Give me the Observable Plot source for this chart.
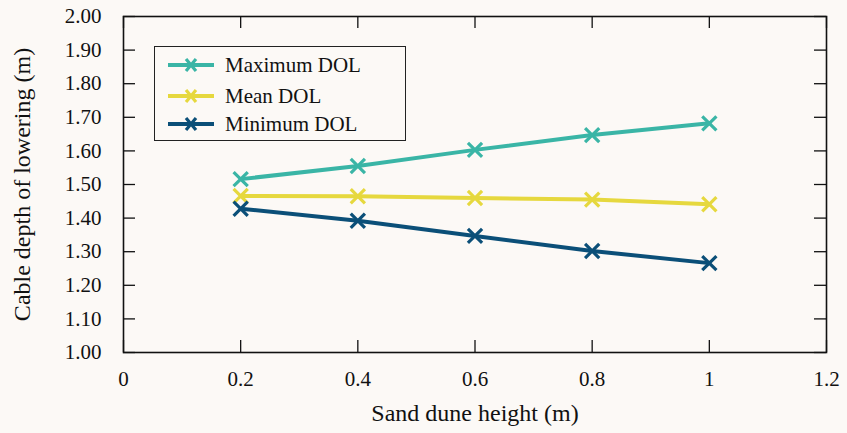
<!DOCTYPE html>
<html>
<head>
<meta charset="utf-8">
<script src="https://cdn.jsdelivr.net/npm/d3@7"></script>
<script src="https://cdn.jsdelivr.net/npm/@observablehq/plot@0.6"></script>
<style>
  html, body { margin: 0; padding: 0; background: #fcf9f6; }
  #wrap { position: relative; width: 847px; height: 433px; font-family: "Liberation Serif", "Times New Roman", Times, "DejaVu Serif", serif; }
  #legend { position: absolute; left: 154px; top: 46px; width: 252px; height: 95px; border: 1.5px solid #222; box-sizing: border-box; background: #fcf9f6; }
  .row { position: absolute; left: 0; height: 24px; display: flex; align-items: center; font-size: 21px; color: #111; white-space: nowrap; }
  .row svg { margin-left: 13px; margin-right: 11px; }
</style>
</head>
<body>
<div id="wrap"></div>
<script>
const sandHeight = [0.2, 0.4, 0.6, 0.8, 1.0];
const maxDOL  = [1.516, 1.555, 1.603, 1.647, 1.682];
const meanDOL = [1.466, 1.465, 1.460, 1.455, 1.441];
const minDOL  = [1.428, 1.392, 1.347, 1.302, 1.266];
const seriesNames = ["Maximum DOL", "Mean DOL", "Minimum DOL"];
const seriesColors = ["#3ab5a6", "#e6d83e", "#0b4f78"];
const xTicks = [0, 0.2, 0.4, 0.6, 0.8, 1.0, 1.2];
const yTicks = [1.0, 1.1, 1.2, 1.3, 1.4, 1.5, 1.6, 1.7, 1.8, 1.9, 2.0];
const xTitle = "Sand dune height (m)";
const yTitle = "Cable depth of lowering (m)";

const seriesValues = [maxDOL, meanDOL, minDOL];
const data = [];
seriesNames.forEach((name, i) => {
  sandHeight.forEach((x, j) => data.push({series: name, x, y: seriesValues[i][j]}));
});

const W = 847, H = 433;
const mL = 123, mR = 21, mT = 16, mB = 81;
const innerW = W - mL - mR, innerH = H - mT - mB;
const tickLen = 12;
const FONT = '"Liberation Serif", "Times New Roman", Times, "DejaVu Serif", serif';

const chart = Plot.plot({
  width: W, height: H,
  marginLeft: mL, marginRight: mR, marginTop: mT, marginBottom: mB,
  style: {background: "#fcf9f6", fontFamily: FONT, fontSize: "21px", color: "#111"},
  x: {domain: [0, 1.2]},
  y: {domain: [1, 2]},
  color: {domain: seriesNames, range: seriesColors},
  marks: [
    Plot.axisX(xTicks, {tickSize: 0, tickPadding: 19, fontSize: 21, fontFamily: FONT, tickFormat: d => String(+d.toFixed(1)), label: null}),
    Plot.axisY(yTicks, {tickSize: 0, tickPadding: 22, fontSize: 21, fontFamily: FONT, tickFormat: d => d.toFixed(2), label: null}),
    Plot.tickX(xTicks, {x: d => d, insetTop: innerH - tickLen, stroke: "#111", strokeWidth: 1.3}),
    Plot.tickX(xTicks, {x: d => d, insetBottom: innerH - tickLen, stroke: "#111", strokeWidth: 1.3}),
    Plot.tickY(yTicks, {y: d => d, insetRight: innerW - tickLen, stroke: "#111", strokeWidth: 1.3}),
    Plot.tickY(yTicks, {y: d => d, insetLeft: innerW - tickLen, stroke: "#111", strokeWidth: 1.3}),
    Plot.frame({stroke: "#111", strokeWidth: 1.6}),
    Plot.line(data, {x: "x", y: "y", z: "series", stroke: "series", strokeWidth: 4}),
    Plot.dot(data, {x: "x", y: "y", stroke: "series", symbol: "times", r: 6.5, strokeWidth: 3.2}),
    Plot.text([xTitle], {frameAnchor: "bottom", textAnchor: "middle", lineAnchor: "middle", dy: 61, fontSize: 24, fontFamily: FONT, fill: "#111"}),
    Plot.text([yTitle], {frameAnchor: "left", textAnchor: "middle", lineAnchor: "middle", dx: -101, rotate: -90, fontSize: 24, fontFamily: FONT, fill: "#111"})
  ]
});
const wrap = document.getElementById("wrap");
wrap.appendChild(chart);

// Legend (inside the plot area)
const legend = document.createElement("div");
legend.id = "legend";
const rowTops = [6, 37, 65];
seriesNames.forEach((name, i) => {
  const row = document.createElement("div");
  row.className = "row";
  row.style.top = rowTops[i] + "px";
  const c = seriesColors[i];
  row.innerHTML = `<svg width="46" height="20" viewBox="0 0 46 20">
      <line x1="0" y1="10" x2="46" y2="10" stroke="${c}" stroke-width="4"/>
      <path d="M18 4 L28 16 M28 4 L18 16" stroke="${c}" stroke-width="3.2" fill="none"/>
    </svg><span>${name}</span>`;
  legend.appendChild(row);
});
wrap.appendChild(legend);
</script>
</body>
</html>
